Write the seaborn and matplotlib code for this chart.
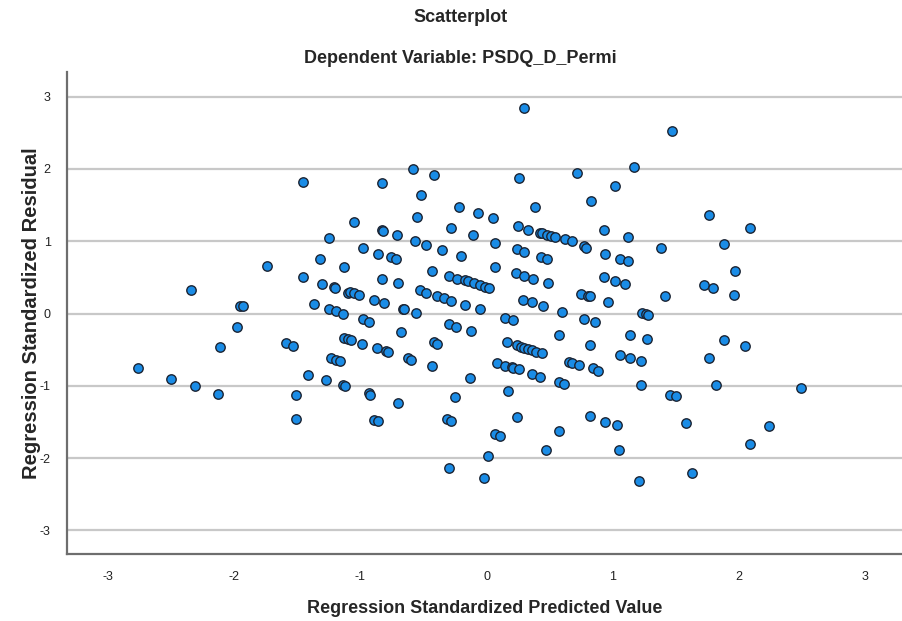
import matplotlib
matplotlib.use("Agg")
import matplotlib.pyplot as plt
import seaborn as sns
import pandas as pd

# ---- data ----
pred = [
    -2.76, -2.50, -2.31, -2.34, -2.13, -2.11, -1.98, -1.95, -1.93, -1.74,
    -1.59, -1.53, -1.51, -1.51, -1.45, -1.45, -1.37, -1.41, -1.27, -1.32,
    -1.25, -1.30, -1.21, -1.20, -1.13, -1.10, -1.25, -1.19, -1.14, -1.13,
    -1.10, -1.07, -1.23, -1.19, -1.16, -1.14, -1.12, -1.05, -0.83, -0.58,
    -0.42, -0.52, -0.55, -0.22, -0.07, 0.05, 0.30, 0.26, 0.38, 0.72,
    0.83, 1.02, 0.93, 1.12, -0.83, -0.82, -0.71, -0.57, -0.28, -0.11,
    0.07, 0.25, 0.33, 0.42, 0.44, 0.48, 0.51, 0.54, 0.62, 0.68,
    1.47, 1.17, 1.76, 2.09, 1.88, 0.77, 0.79, -0.98, -0.86, -0.76,
    -0.72, -0.48, -0.35, -0.20, 0.07, 0.24, 0.30, 0.43, 0.48, 0.94,
    1.06, 1.12, -0.43, -0.30, -0.23, -0.17, -0.15, -0.10, -0.05, -0.01,
    0.02, -0.83, -0.70, 0.23, 0.30, 0.37, 0.49, 0.93, 1.02, 1.10,
    -1.08, -1.05, -1.01, -0.89, -0.81, -0.53, -0.48, -0.39, -0.34, -0.28,
    -0.17, -0.05, -0.66, -0.65, -0.56, 0.29, 0.36, 0.45, 0.60, 0.75,
    0.80, 0.82, 0.96, 0.15, 0.21, 0.77, 0.86, -0.98, -0.93, -0.30,
    -0.24, -0.12, -0.68, 0.57, 1.14, -0.99, -0.87, -0.80, -0.78, -0.42,
    -0.39, 0.16, 0.24, 0.27, 0.30, 0.33, 0.36, 0.39, 0.44, 0.82,
    1.06, -0.62, -0.60, 0.08, 0.15, 0.20, 0.21, 0.26, 0.36, 0.42,
    0.65, 0.68, 0.73, 0.84, 0.88, -0.43, -0.13, 0.57, 0.61, -0.93,
    -0.92, 0.17, -0.25, -0.70, -0.89, -0.86, -0.31, -0.28, 0.24, 0.07,
    0.11, 0.01, -0.02, -0.30, 0.47, 0.57, 0.82, 0.94, 1.03, 1.05,
    1.45, 1.50, 1.58, 2.24, 2.09, 1.63, 1.21, 2.49, 1.22, 1.82,
    1.38, 1.97, 1.72, 1.79, 1.96, 1.41, 1.23, 1.26, 1.28, 1.27,
    1.88, 2.05, 1.14, 1.22, 1.76,
]
resid = [
    -0.76, -0.90, -1.00, 0.33, -1.11, -0.46, -0.19, 0.11, 0.10, 0.66,
    -0.41, -0.45, -1.12, -1.46, 0.50, 1.82, 0.13, -0.85, -0.92, 0.76,
    1.05, 0.41, 0.37, 0.36, 0.65, 0.29, 0.06, 0.03, 0.00, -0.34,
    -0.35, -0.37, -0.61, -0.64, -0.66, -0.99, -1.00, 1.27, 1.81, 2.00,
    1.91, 1.64, 1.33, 1.47, 1.39, 1.32, 2.84, 1.87, 1.47, 1.94,
    1.55, 1.77, 1.16, 1.06, 1.15, 1.14, 1.09, 1.01, 1.18, 1.08,
    0.98, 1.21, 1.16, 1.11, 1.11, 1.09, 1.07, 1.06, 1.03, 1.01,
    2.52, 2.02, 1.36, 1.18, 0.96, 0.94, 0.91, 0.90, 0.83, 0.78,
    0.76, 0.95, 0.88, 0.80, 0.65, 0.89, 0.85, 0.78, 0.75, 0.83,
    0.76, 0.72, 0.59, 0.52, 0.48, 0.46, 0.45, 0.42, 0.39, 0.37,
    0.35, 0.48, 0.42, 0.56, 0.52, 0.48, 0.42, 0.50, 0.45, 0.41,
    0.30, 0.28, 0.26, 0.19, 0.15, 0.32, 0.29, 0.24, 0.21, 0.18,
    0.12, 0.06, 0.06, 0.06, 0.01, 0.19, 0.16, 0.10, 0.02, 0.27,
    0.24, 0.24, 0.16, -0.06, -0.09, -0.07, -0.12, -0.08, -0.12, -0.14,
    -0.18, -0.24, -0.26, -0.30, -0.29, -0.42, -0.48, -0.52, -0.53, -0.40,
    -0.42, -0.40, -0.44, -0.46, -0.48, -0.49, -0.51, -0.53, -0.55, -0.43,
    -0.57, -0.61, -0.64, -0.68, -0.72, -0.74, -0.75, -0.77, -0.84, -0.88,
    -0.67, -0.69, -0.71, -0.76, -0.80, -0.73, -0.89, -0.95, -0.98, -1.10,
    -1.12, -1.07, -1.16, -1.24, -1.47, -1.49, -1.46, -1.48, -1.43, -1.67,
    -1.69, -1.97, -2.28, -2.14, -1.89, -1.62, -1.42, -1.50, -1.54, -1.89,
    -1.12, -1.14, -1.52, -1.55, -1.80, -2.20, -2.31, -1.03, -0.99, -0.99,
    0.91, 0.59, 0.40, 0.35, 0.26, 0.24, 0.01, -0.01, -0.02, -0.35,
    -0.36, -0.45, -0.61, -0.66, -0.62,
]
ticks = [-3, -2, -1, 0, 1, 2, 3]
tick_labels = ["-3", "-2", "-1", "0", "1", "2", "3"]
title = "Scatterplot"
subtitle = "Dependent Variable: PSDQ_D_Permi"
xlabel = "Regression Standardized Predicted Value"
ylabel = "Regression Standardized Residual"

df = pd.DataFrame({"pred": pred, "resid": resid})

sns.set_theme(style="white")
plt.rcParams["font.family"] = ["Liberation Sans", "DejaVu Sans"]

fig = plt.figure(figsize=(9.02, 6.21), dpi=100)
ax = fig.add_axes([0.0746, 0.1074, 0.9254, 0.7766])

for t in ticks:
    ax.axhline(t, color="#c8c8c8", lw=1.6, zorder=0)

sns.scatterplot(data=df, x="pred", y="resid", ax=ax, s=46,
                color="#1a8ce6", edgecolor="#1b2433", linewidth=1.0, zorder=3)

ax.set_xlim(-3.32, 3.29)
ax.set_ylim(-3.33, 3.34)
ax.set_xticks(ticks)
ax.set_xticklabels(tick_labels)
ax.set_yticks(ticks)
ax.set_yticklabels(tick_labels)
ax.tick_params(axis="both", labelsize=9, length=0, colors="#222222")
ax.tick_params(axis="x", pad=12)
ax.tick_params(axis="y", pad=12)

for side in ["top", "right"]:
    ax.spines[side].set_visible(False)
for side in ["left", "bottom"]:
    ax.spines[side].set_color("#6e6e6e")
    ax.spines[side].set_linewidth(1.6)

ax.set_xlabel(xlabel, fontsize=13, fontweight="bold", labelpad=12)
ax.set_ylabel(ylabel, fontsize=14.5, fontweight="bold", labelpad=-1)

fig.text(0.51, 0.972, title, ha="center", va="center", fontsize=13, fontweight="bold")
fig.text(0.51, 0.905, subtitle, ha="center", va="center", fontsize=13, fontweight="bold")

fig.savefig("out.png", dpi=100)
